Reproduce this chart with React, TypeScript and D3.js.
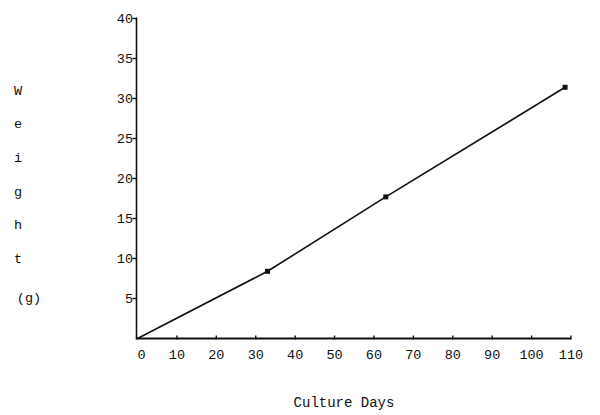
import React from "react";
import * as d3 from "d3";

const days = [0, 33, 63, 108.5];
const weights = [0, 8.4, 17.7, 31.4];
const xTicks = [0, 10, 20, 30, 40, 50, 60, 70, 80, 90, 100, 110];
const yTicks = [5, 10, 15, 20, 25, 30, 35, 40];
const yTitleLetters = ["W", "e", "i", "g", "h", "t"];

export default function App() {
  const W = 600, H = 415;
  const x = d3.scaleLinear().domain([0, 110]).range([137.5, 571]);
  const y = d3.scaleLinear().domain([0, 40]).range([338.5, 18.5]);
  const pts = days.map((d, i) => [d, weights[i]] as [number, number]);
  const line = d3.line<[number, number]>().x(d => x(d[0])).y(d => y(d[1]));
  const font = "'Liberation Mono', 'DejaVu Sans Mono', monospace";
  const fs = 13.5;
  return (
    <svg width={W} height={H} style={{ position: "absolute", left: 0, top: 0, background: "#fff" }}>
      <rect width={W} height={H} fill="#fff" />
      <line x1={x(0) - 1} x2={x(0) - 1} y1={y(40) - 1} y2={y(0) + 1} stroke="#111" strokeWidth={1.6} />
      <line x1={x(0) - 1} x2={x(110)} y1={y(0)} y2={y(0)} stroke="#111" strokeWidth={1.8} />
      {yTicks.map(t => (
        <g key={t}>
          <line x1={x(0) - 5} x2={x(0) - 1} y1={y(t)} y2={y(t)} stroke="#111" strokeWidth={1.4} />
          <text x={133} y={y(t)} dy="0.35em" textAnchor="end" fontFamily={font} fontSize={fs} fill="#111">{t}</text>
        </g>
      ))}
      {xTicks.map(t => (
        <g key={t}>
          {t > 0 && <line x1={x(t)} x2={x(t)} y1={y(0) - 3} y2={y(0) + 1} stroke="#111" strokeWidth={1.4} />}
          <text x={t === 0 ? x(t) + 4 : x(t)} y={359} textAnchor="middle" fontFamily={font} fontSize={fs} fill="#111">{t}</text>
        </g>
      ))}
      <path d={line(pts) || ""} fill="none" stroke="#111" strokeWidth={1.6} />
      {pts.slice(1).map((p, i) => (
        <rect key={i} x={x(p[0]) - 2.5} y={y(p[1]) - 2.5} width={5} height={5} fill="#111" />
      ))}
      {yTitleLetters.map((c, i) => (
        <text key={c + i} x={18} y={90 + i * 33.6} dy="0.35em" textAnchor="middle" fontFamily={font} fontSize={fs} fill="#111">{c}</text>
      ))}
      <text x={29} y={297} dy="0.35em" textAnchor="middle" fontFamily={font} fontSize={fs} fill="#111">(g)</text>
      <text x={344} y={402} dy="0.35em" textAnchor="middle" fontFamily={font} fontSize={fs + 0.5} fill="#111">Culture Days</text>
    </svg>
  );
}
